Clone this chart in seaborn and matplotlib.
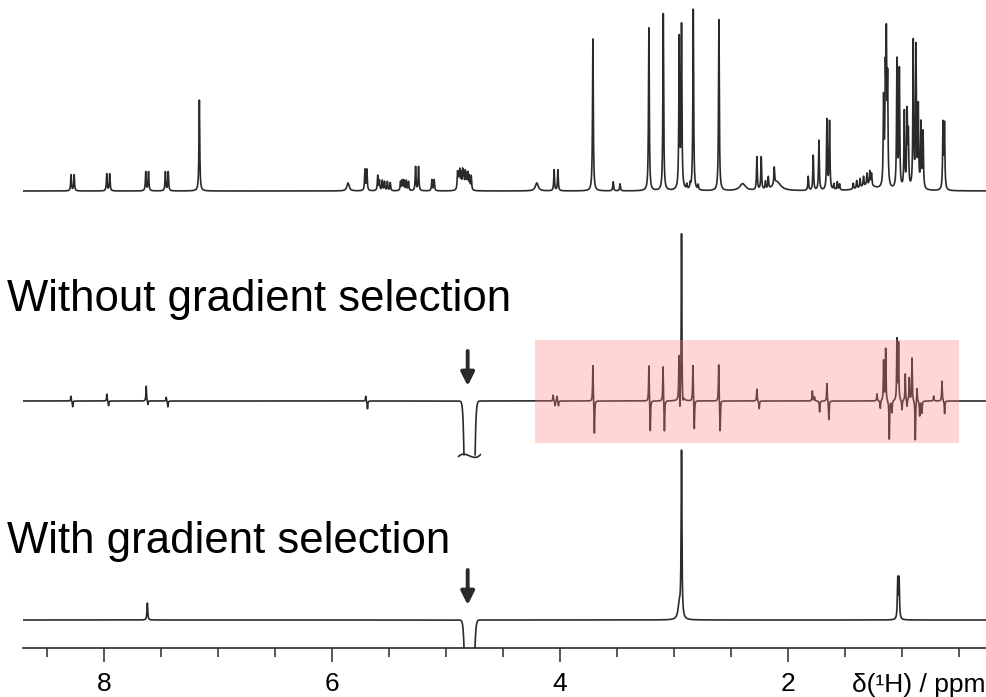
import numpy as np
import pandas as pd
import matplotlib
matplotlib.use("Agg")
import matplotlib.pyplot as plt
from matplotlib.patches import Rectangle, PathPatch
from matplotlib.path import Path
from matplotlib.ticker import MultipleLocator
import seaborn as sns

# ---------------------------------------------------------------------------
# 1D 1H reference spectrum: resolved lines (ppm) and intensities
ref_ppm = [8.289, 8.262, 7.976, 7.950, 7.634, 7.610, 7.462, 7.437, 7.164,
           5.712, 5.695, 5.600, 5.585, 5.560, 5.540, 5.515, 5.490,
           5.400, 5.385, 5.370, 5.350, 5.330, 5.268, 5.242, 5.125, 5.105,
           4.900, 4.890, 4.880, 4.868, 4.855, 4.845, 4.832, 4.820, 4.808, 4.795, 4.780,
           4.053, 4.020, 3.713, 3.535, 3.475, 3.222, 3.096, 2.956, 2.936,
           2.890, 2.860, 2.790, 2.833, 2.608, 2.275, 2.237, 2.200, 2.175, 2.123,
           1.825, 1.781, 1.731, 1.661, 1.638, 1.600, 1.570, 1.550,
           1.430, 1.400, 1.370, 1.340, 1.310, 1.285, 1.270,
           1.164, 1.149, 1.140, 1.129, 1.047, 1.026, 0.982, 0.958, 0.947,
           0.904, 0.880, 0.860, 0.836, 0.818, 0.643, 0.630]
ref_int = [16, 16, 17, 17, 19, 19, 19, 19, 91,
           21, 21, 15, 10, 10, 9, 9, 8,
           9, 10, 10, 10, 9, 24, 24, 11, 11,
           17, 14, 18, 15, 18, 15, 17, 14, 16, 13, 14,
           21, 21, 152, 9, 7, 163, 177, 150, 162,
           5, 5, 5, 181, 171, 33, 33, 8, 12, 17,
           14, 35, 50, 70, 68, 6, 8, 6,
           6, 8, 9, 10, 12, 14, 12,
           85, 100, 135, 100, 128, 118, 76, 74, 52,
           146, 140, 80, 64, 56, 65, 64]

# broad, unresolved humps of the reference spectrum
ref_broad_ppm = [5.860, 4.205, 2.400, 2.100, 1.300]
ref_broad_int = [8, 8, 7, 9, 5]
ref_broad_width = [0.012, 0.015, 0.030, 0.040, 0.080]

# spectrum without gradient selection: signed (antiphase) line intensities
nograd_ppm = [8.290, 8.275, 7.975, 7.960, 7.630, 7.615, 7.455, 7.440,
              5.705, 5.690, 4.062, 4.045, 4.028, 4.015,
              3.713, 3.700, 3.222, 3.210, 3.098, 3.086,
              2.958, 2.950, 2.936, 2.925, 2.836, 2.824, 2.610, 2.598,
              2.275, 2.255, 1.789, 1.770, 1.725, 1.661, 1.644,
              1.222, 1.193, 1.164, 1.146, 1.114, 1.091, 1.047, 1.033, 1.003,
              0.974, 0.959, 0.939, 0.915, 0.886, 0.871, 0.848, 0.828, 0.725,
              0.652, 0.629]
nograd_int = [5, -6, 7, -5, 15, -4, 4, -6,
              5, -8, 6, -5, 5, -5,
              37, -34, 37, -32, 36, -32,
              45, -18, 168, -10, 37, -30, 38, -32,
              12, -8, 10, 4, -11, 18, -19,
              7, -8, 40, 52, -39, -12, 61, 57, -10,
              27, -7, 23, 43, -40, 14, -15, -12, 5,
              20, -13]

# spectrum with gradient selection
grad_ppm = [7.620, 2.956, 2.936, 1.040, 1.028]
grad_int = [17, 15, 166, 40, 40]
grad_width = [0.004, 0.012, 0.004, 0.004, 0.004]

# residual solvent (water) signal, off-scale and negative
water_ppm = 4.795
water_nograd = -1070
water_grad = -500
water_sigma = 0.02

label_top = "Without gradient selection"
label_bottom = "With gradient selection"
axis_label = "δ(¹H) / ppm"

# ---------------------------------------------------------------------------
HW = 0.004  # Lorentzian half width at half maximum, ppm
x = np.linspace(8.713, 0.266, 17000)


def lorentz(pos, amp, hw):
    pos = np.asarray(pos, float)[:, None]
    amp = np.asarray(amp, float)[:, None]
    hw = np.broadcast_to(np.asarray(hw, float), pos.shape[:1])[:, None]
    return (amp * hw ** 2 / ((x[None, :] - pos) ** 2 + hw ** 2)).sum(axis=0)


def gauss(pos, amp, sig):
    return amp * np.exp(-(x - pos) ** 2 / (2 * sig ** 2))


ref = lorentz(ref_ppm, ref_int, HW) + lorentz(ref_broad_ppm, ref_broad_int, ref_broad_width)
nograd = lorentz(nograd_ppm, nograd_int, 0.003) + gauss(water_ppm, water_nograd, water_sigma)
grad = lorentz(grad_ppm, grad_int, grad_width) + gauss(water_ppm, water_grad, water_sigma)

# vertical layout (display units)
BASE_TOP, BASE_MID, BASE_BOT = 457, 247, 28
FLOOR = -54  # truncation level of the water signal in the middle trace

mid = np.clip(nograd, FLOOR, None)
below = nograd < FLOOR
seg = np.where(x > water_ppm, "a", "b")
keep = ~below | np.r_[False, ~below[:-1]] | np.r_[~below[1:], False]

sns.set_theme(style="white")
plt.rcParams["font.family"] = ["Liberation Sans", "DejaVu Sans"]
plt.rcParams["text.color"] = "black"

fig = plt.figure(figsize=(9.86, 6.97), dpi=100)
ax = fig.add_axes([22.7 / 986, 49 / 697, (986 - 22.7) / 986, 648 / 697])

LC = "#2a2a2a"
df_top = pd.DataFrame({"ppm": x, "y": ref + BASE_TOP})
df_mid = pd.DataFrame({"ppm": x[keep], "y": mid[keep] + BASE_MID, "seg": seg[keep]})
df_bot = pd.DataFrame({"ppm": x, "y": grad + BASE_BOT})

sns.lineplot(data=df_top, x="ppm", y="y", estimator=None, sort=False,
             color=LC, lw=1.2, ax=ax)
sns.lineplot(data=df_mid, x="ppm", y="y", units="seg", estimator=None, sort=False,
             color=LC, lw=1.2, ax=ax)
sns.lineplot(data=df_bot, x="ppm", y="y", estimator=None, sort=False,
             color=LC, lw=1.2, ax=ax)

# break mark at the truncated water signal
fy = BASE_MID + FLOOR
xl, xr = water_ppm + 0.10, water_ppm - 0.10
L = xr - xl
verts = [(xl, fy - 2), (xl + L / 3, fy + 7), (xl + 2 * L / 3, fy - 9), (xr, fy + 1)]
ax.add_patch(PathPatch(Path(verts, [Path.MOVETO, Path.CURVE4, Path.CURVE4, Path.CURVE4]),
                       fill=False, lw=1.2, ec=LC))

# highlighted region in the spectrum without gradient selection
ax.add_patch(Rectangle((0.50, BASE_MID - 42), 4.223 - 0.50, 102.7,
                       facecolor=(1.0, 0.49, 0.49), alpha=0.32, lw=0, zorder=5))

# arrows marking the solvent signal
for base in (BASE_MID, BASE_BOT):
    ax.annotate("", xy=(4.811, base + 15), xytext=(4.811, base + 50),
                arrowprops=dict(arrowstyle="-|>", lw=2.8, color=LC,
                                mutation_scale=20, shrinkA=0, shrinkB=0))

ax.set_xlim(8.713, 0.266)
ax.set_ylim(0, 648)
ax.set_xlabel("")
ax.set_ylabel("")
ax.set_yticks([])
for s in ("left", "right", "top"):
    ax.spines[s].set_visible(False)
ax.spines["bottom"].set_color(LC)
ax.spines["bottom"].set_linewidth(1.2)
ax.xaxis.set_major_locator(MultipleLocator(2))
ax.xaxis.set_minor_locator(MultipleLocator(0.5))
ax.tick_params(axis="x", which="major", bottom=True, direction="out", length=10,
               width=1.1, color=LC, labelsize=19, pad=7, labelcolor="black")
ax.tick_params(axis="x", which="minor", bottom=True, direction="out", length=6.5,
               width=1.1, color=LC)
ax.set_facecolor("white")

fig.text(7 / 986, (697 - 311) / 697, label_top, fontsize=31.5, va="baseline",
         ha="left", color="black")
fig.text(7 / 986, (697 - 553) / 697, label_bottom, fontsize=31.5, va="baseline",
         ha="left", color="black")
fig.text(985 / 986, (697 - 692) / 697, axis_label, fontsize=19, va="baseline",
         ha="right", color="black")

fig.savefig("out.png", dpi=100, facecolor="white")
